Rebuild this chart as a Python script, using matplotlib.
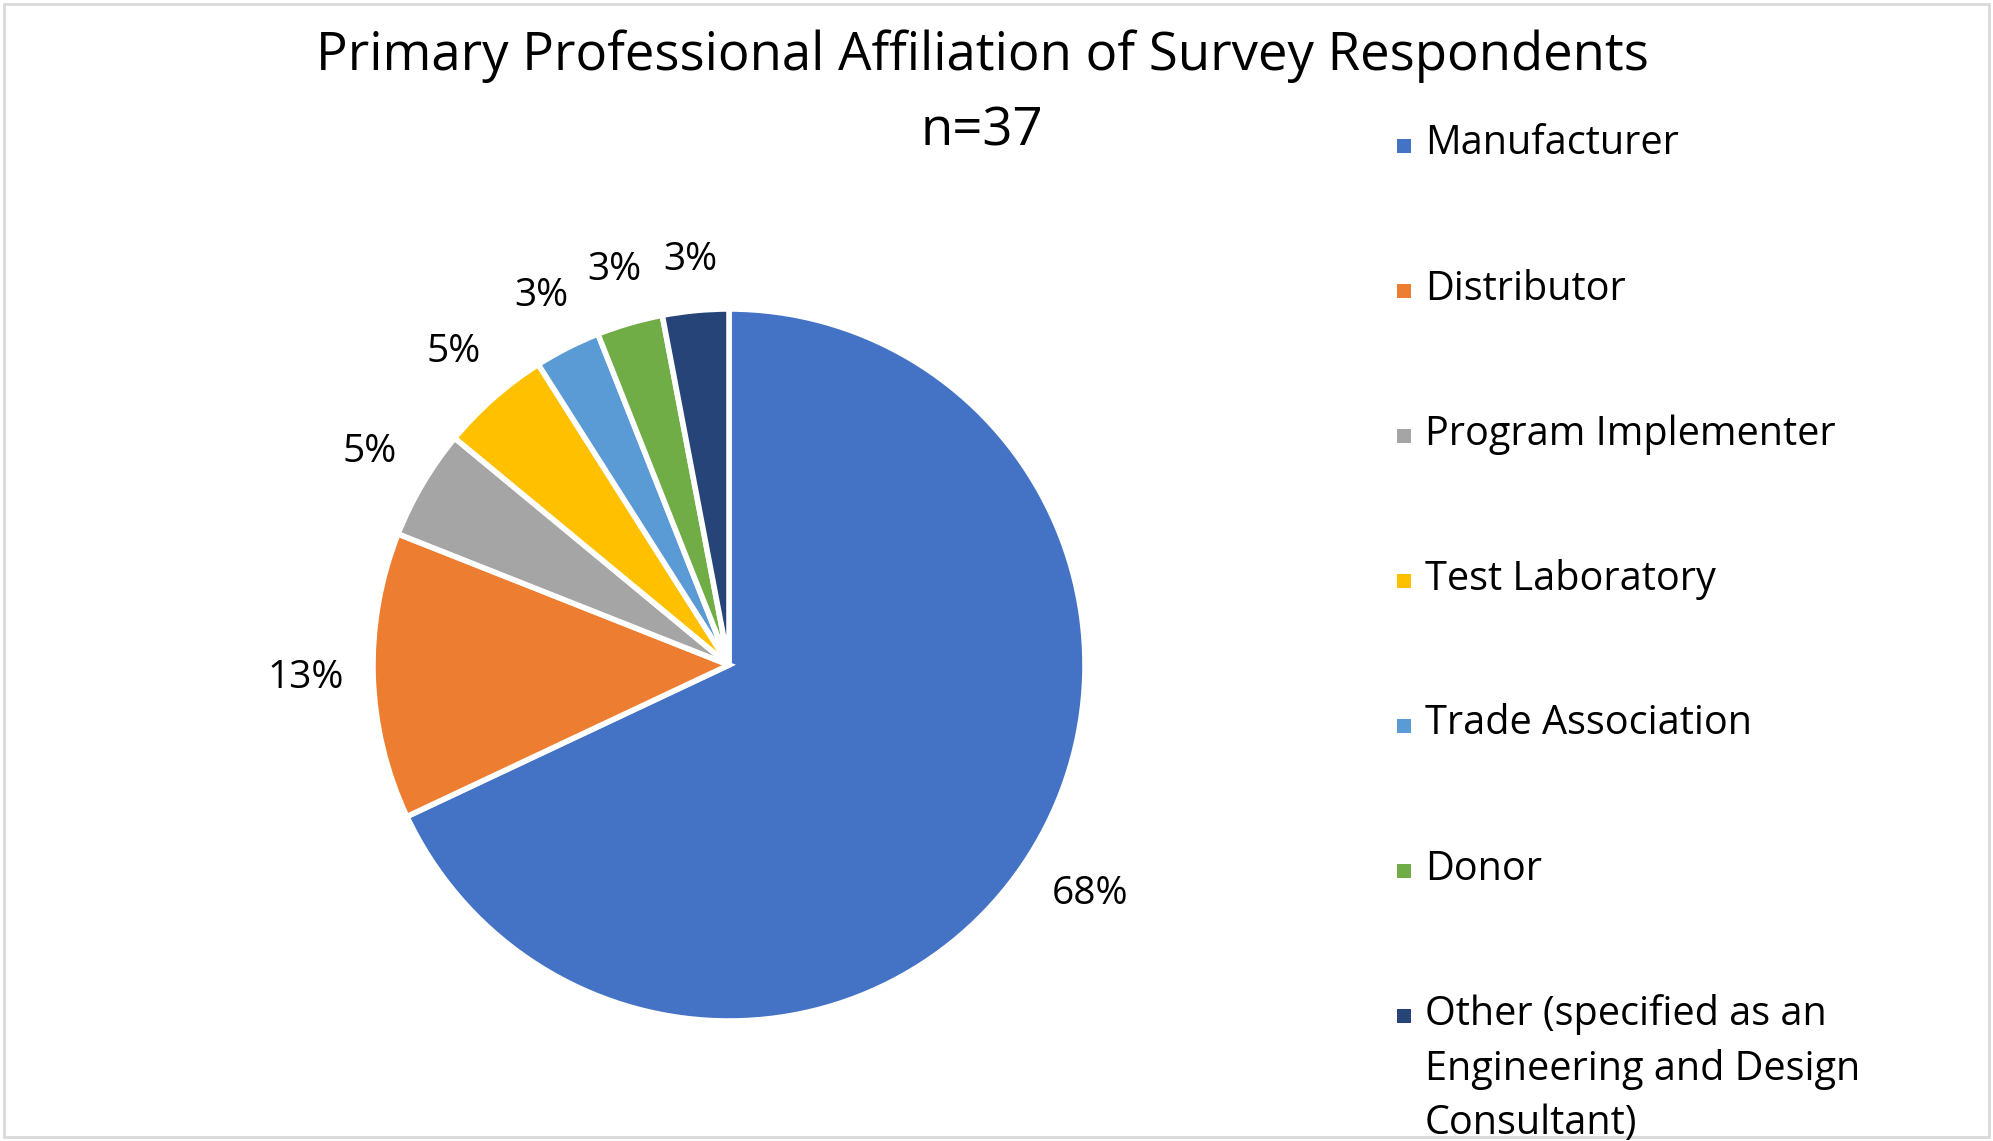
import matplotlib.pyplot as plt
import numpy as np
from matplotlib.patches import Rectangle

# данные с картинки (доли в %)
labels = [
    "Manufacturer",
    "Distributor",
    "Program Implementer",
    "Test Laboratory",
    "Trade Association",
    "Donor",
    "Other (specified as an\nEngineering and Design\nConsultant)",
]
shares = [68, 13, 5, 5, 3, 3, 3]
colors = ["#4472C4", "#ED7D31", "#A5A5A5", "#FFC000", "#5B9BD5", "#70AD47", "#264478"]
title = "Primary Professional Affiliation of Survey Respondents"
subtitle = "n=37"

plt.rcParams["font.family"] = ["Open Sans", "DejaVu Sans"]

W, H = 1993, 1141
fig = plt.figure(figsize=(W / 100, H / 100), dpi=100)

# pie: центр (729, 665) px, радиус 356 px
cx, cy, r = 729, 665, 356
half = 1.25 * r
ax = fig.add_axes([(cx - half) / W, (H - cy - half) / H, 2 * half / W, 2 * half / H])
wedges, _, autotexts = ax.pie(
    shares,
    colors=colors,
    startangle=90,
    counterclock=False,
    autopct="%.0f%%",
    pctdistance=1.2,
    wedgeprops=dict(edgecolor="white", linewidth=4),
    textprops=dict(fontsize=28, color="black"),
)
# подписи как в Excel: зазор от края круга + проекция размеров текста
renderer = fig.canvas.get_renderer()
for w, t in zip(wedges, autotexts):
    a = np.deg2rad((w.theta1 + w.theta2) / 2)
    c, s = np.cos(a), np.sin(a)
    hw = t.get_window_extent(renderer).width / 2 / r
    hh = 0.055
    d = 1.08 + hw * abs(c) + hh * abs(s)
    t.set_position((d * c, d * s))
ax.set_xlim(-1.25, 1.25)
ax.set_ylim(-1.25, 1.25)
ax.set_aspect("equal")

fig.text(982 / W, 1 - 56 / H, title, ha="center", va="center", fontsize=38)
fig.text(982 / W, 1 - 132 / H, subtitle, ha="center", va="center", fontsize=38)

# легенда вручную
y0, step = 146, 145
for i, (lab, col) in enumerate(zip(labels, colors)):
    y = y0 + i * step
    fig.patches.append(
        Rectangle(((1404 - 7) / W, 1 - (y + 7) / H), 14 / W, 14 / H,
                  transform=fig.transFigure, facecolor=col, edgecolor="none")
    )
    fig.text(1425 / W, 1 - (y - 22) / H, lab, ha="left", va="top",
             fontsize=28.5, linespacing=1.44)

# рамка
fig.patches.append(
    Rectangle((4 / W, 4 / H), (W - 8) / W, (H - 8) / H, transform=fig.transFigure,
              facecolor="none", edgecolor="#d9d9d9", linewidth=2)
)

fig.savefig("out.png", dpi=100)
